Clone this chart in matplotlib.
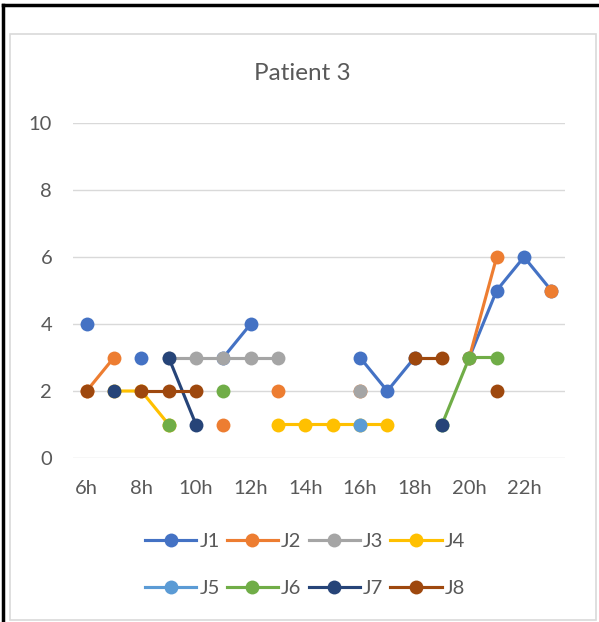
import numpy as np
import matplotlib.pyplot as plt
from matplotlib.patches import Rectangle
from matplotlib.lines import Line2D

plt.rcParams['font.family'] = ['Lato', 'DejaVu Sans']

n = np.nan
hours = list(range(6, 24))
labels = [f'{h}h' for h in hours]

J1 = [4, n, 3, n, n, 3, 4, n, n, n, 3, 2, 3, n, 3, 5, 6, 5]
J2 = [2, 3, n, n, n, 1, n, 2, n, n, 2, n, n, n, 3, 6, n, 5]
J3 = [n, n, n, 3, 3, 3, 3, 3, n, n, 2, n, n, n, n, n, n, n]
J4 = [n, 2, 2, 1, n, n, n, 1, 1, 1, 1, 1, n, n, n, n, n, n]
J5 = [n, n, n, n, n, n, n, n, n, n, 1, n, n, n, n, n, n, n]
J6 = [n, n, n, 1, n, 2, n, n, n, n, n, n, n, 1, 3, 3, n, n]
J7 = [n, 2, n, 3, 1, n, n, n, n, n, n, n, n, 1, n, n, n, n]
J8 = [2, n, 2, 2, 2, n, n, n, n, n, n, n, 3, 3, n, 2, n, n]

series = [J1, J2, J3, J4, J5, J6, J7, J8]
names = ['J1', 'J2', 'J3', 'J4', 'J5', 'J6', 'J7', 'J8']
colors = ['#4472C4', '#ED7D31', '#A5A5A5', '#FFC000',
          '#5B9BD5', '#70AD47', '#264478', '#9E480E']

txt = '#595959'
fig = plt.figure(figsize=(5.99, 6.22), dpi=100)
W, H = 599, 622

# chart area border + outer black frame
fig.patches.append(Rectangle((10 / W, 1 - 620 / H), 586 / W, 586 / H,
                             transform=fig.transFigure, fill=False,
                             edgecolor='#D9D9D9', lw=1.2))
fig.lines.append(Line2D([3 / W, 3 / W], [0, 1 - 5 / H], transform=fig.transFigure,
                        color='black', lw=2.5))
fig.lines.append(Line2D([3 / W, 1], [1 - 5 / H, 1 - 5 / H], transform=fig.transFigure,
                        color='black', lw=2.5))

ax = fig.add_axes([73 / W, 1 - 458 / H, 492 / W, 335 / H])
x = np.arange(len(hours))
handles = []
for vals, name, c in zip(series, names, colors):
    h, = ax.plot(x, vals, color=c, lw=2.25, marker='o', markersize=10,
                 markeredgewidth=0, label=name)
    handles.append(h)

ax.set_xlim(-0.5, len(hours) - 0.5)
ax.set_ylim(0, 10)
ax.set_yticks(range(0, 11, 2))
ax.set_xticks(x[::2])
ax.set_xticklabels(labels[::2])
ax.grid(axis='y', color='#D9D9D9', lw=1)
ax.set_axisbelow(True)
for s in ax.spines.values():
    s.set_visible(False)
ax.tick_params(length=0, labelsize=14.5, colors=txt)
ax.tick_params(axis='x', pad=16)
ax.tick_params(axis='y', pad=15)

fig.text(302 / W, 1 - 73 / H, 'Patient 3', ha='center', va='center',
         fontsize=17.5, color=txt)

# legend fills row by row: reorder for column-major layout
order = [0, 4, 1, 5, 2, 6, 3, 7]
fig.legend([handles[i] for i in order], [names[i] for i in order],
           loc='center', bbox_to_anchor=(305 / W, 1 - 565 / H), ncol=4,
           frameon=False, fontsize=14.5, labelcolor=txt, handlelength=2.55,
           columnspacing=0.35, handletextpad=0.15, labelspacing=1.5)

fig.savefig('out.png', dpi=100)
